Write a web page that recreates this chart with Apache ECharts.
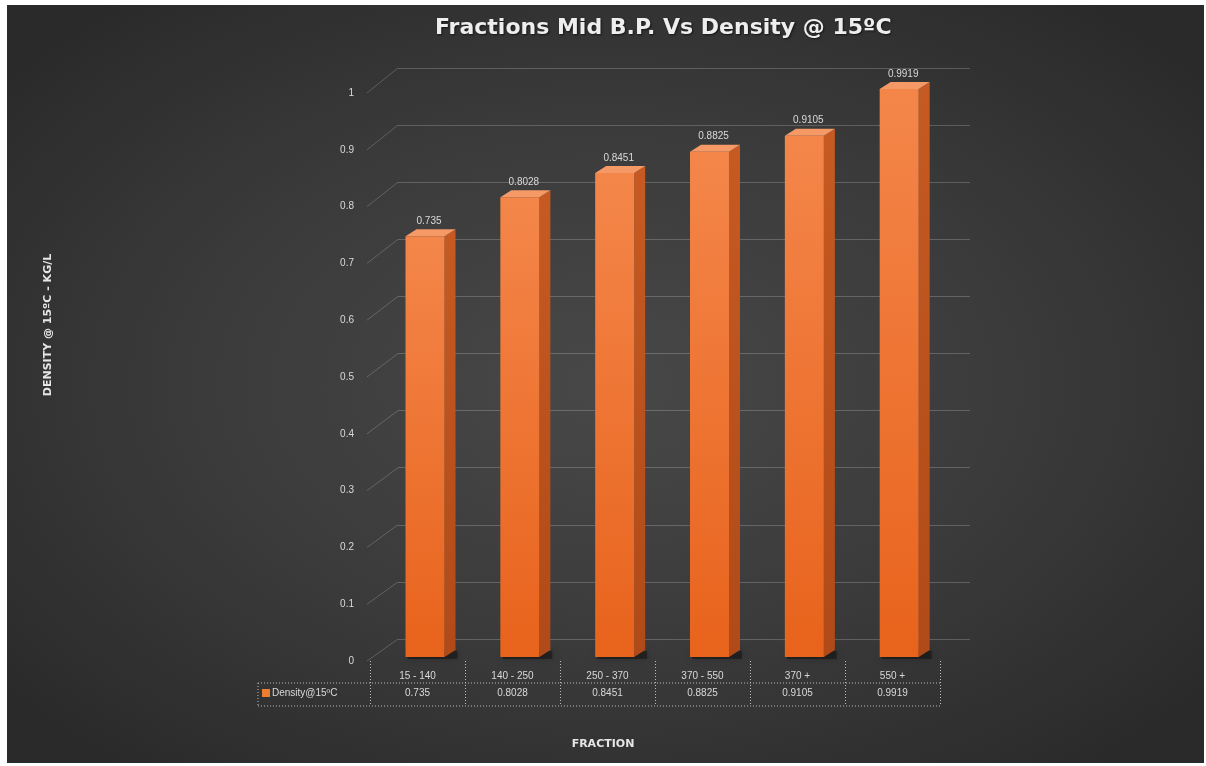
<!DOCTYPE html>
<html>
<head>
<meta charset="utf-8">
<script src="https://cdn.jsdelivr.net/npm/echarts@6/dist/echarts.min.js"></script>
<style>
  html, body { margin: 0; padding: 0; background: #ffffff; width: 1206px; height: 766px; overflow: hidden; }
  #chart {
    position: absolute; left: 7px; top: 5px; width: 1197px; height: 758px;
    background: radial-gradient(ellipse 65% 65% at 50% 50%, #484848 0%, #3a3a3a 55%, #2a2a2a 100%);
  }
</style>
</head>
<body>
<div id="chart"></div>
<script>
// ---- data ----
const categories = ['15 - 140', '140 - 250', '250 - 370', '370 - 550', '370 +', '550 +'];
const densities = [0.735, 0.8028, 0.8451, 0.8825, 0.9105, 0.9919];
const yTicks = [0, 0.1, 0.2, 0.3, 0.4, 0.5, 0.6, 0.7, 0.8, 0.9, 1];
const seriesName = 'Density@15ºC';

// ---- layout (page px, converted to chart px) ----
const OX = 7, OY = 5;
const TXT = '#d9d9d9';
const GRID_COL = 'rgba(255,255,255,0.2)';
const TABLE_COL = '#bdbdbd';
const FONT = '"Liberation Sans", Arial, sans-serif';

const front = { left: 370 - OX, top: 93 - OY, width: 570, height: 568 };
const back  = { left: 398 - OX, top: 68 - OY, width: 572, height: 571 };
const bars  = { left: 377.6 - OX, top: 84.4 - OY, width: 569, height: 572.6 };

const chart = echarts.init(document.getElementById('chart'), null, { renderer: 'canvas' });

const orangeFront = new echarts.graphic.LinearGradient(0, 0, 0, 1, [
  { offset: 0, color: '#f4864a' },
  { offset: 1, color: '#e8631c' }
]);
const orangeSide = new echarts.graphic.LinearGradient(0, 0, 0, 1, [
  { offset: 0, color: '#c65a22' },
  { offset: 1, color: '#b04a18' }
]);

const tableLeft = 258 - OX, tableRight = front.left + front.width;
const rowMid = 683 - OY, rowBot = 706 - OY;

const option = {
  animation: false,
  backgroundColor: 'transparent',
  title: {
    text: 'Fractions Mid B.P. Vs Density @ 15ºC',
    left: 430 - OX,
    top: 12 - OY,
    textStyle: {
      color: '#eeeeee', fontSize: 22, fontWeight: 'bold',
      fontFamily: '"DejaVu Sans", Verdana, sans-serif',
      textShadowColor: 'rgba(0,0,0,0.6)', textShadowBlur: 2, textShadowOffsetX: 1, textShadowOffsetY: 1
    }
  },
  legend: {
    data: [{ name: seriesName, icon: 'rect' }],
    left: 262 - OX, top: 688 - OY,
    padding: 0, itemWidth: 8, itemHeight: 8, itemGap: 2,
    textStyle: { color: TXT, fontSize: 10, fontFamily: FONT, padding: [0, 0, 0, -3] },
    selectedMode: false
  },
  grid: [
    Object.assign({ containLabel: false }, front),
    Object.assign({ containLabel: false }, back),
    Object.assign({ containLabel: false }, bars)
  ],
  xAxis: [
    {
      gridIndex: 0, type: 'category', data: categories, boundaryGap: true,
      axisLine: { show: false },
      axisTick: { show: true, length: 45, interval: 0, lineStyle: { color: TABLE_COL, type: [1, 2], width: 1 } },
      axisLabel: { interval: 0, margin: 10, color: TXT, fontSize: 10, fontFamily: FONT },
      splitLine: { show: false }
    },
    {
      gridIndex: 0, type: 'category', data: densities.map(String), position: 'bottom', offset: 22,
      axisLine: { show: false }, axisTick: { show: false },
      axisLabel: { interval: 0, margin: 5, color: TXT, fontSize: 10, fontFamily: FONT },
      splitLine: { show: false }
    },
    { gridIndex: 1, type: 'category', data: categories, show: false },
    { gridIndex: 2, type: 'category', data: categories, show: false }
  ],
  yAxis: [
    {
      gridIndex: 0, type: 'value', min: 0, max: 1, interval: 0.1,
      axisLine: { show: false }, axisTick: { show: false }, splitLine: { show: false },
      axisLabel: { margin: 16, color: TXT, fontSize: 10, fontFamily: FONT }
    },
    {
      gridIndex: 1, type: 'value', min: 0, max: 1, interval: 0.1,
      axisLine: { show: false }, axisTick: { show: false }, axisLabel: { show: false },
      splitLine: { show: true, lineStyle: { color: GRID_COL, width: 1 } }
    },
    { gridIndex: 2, type: 'value', min: 0, max: 1, show: false }
  ],
  graphic: [
    { type: 'line', shape: { x1: tableLeft, y1: rowMid, x2: tableRight, y2: rowMid }, style: { stroke: TABLE_COL, lineDash: [1, 2], lineWidth: 1 } },
    { type: 'line', shape: { x1: tableLeft, y1: rowBot, x2: tableRight, y2: rowBot }, style: { stroke: TABLE_COL, lineDash: [1, 2], lineWidth: 1 } },
    { type: 'line', shape: { x1: tableLeft, y1: rowMid, x2: tableLeft, y2: rowBot }, style: { stroke: TABLE_COL, lineDash: [1, 2], lineWidth: 1 } },
    {
      type: 'text', x: 48 - OX, y: 325 - OY, rotation: Math.PI / 2,
      style: { text: 'DENSITY @ 15ºC - KG/L', fill: '#e6e6e6', font: 'bold 11px "DejaVu Sans", sans-serif', textAlign: 'center', textVerticalAlign: 'middle' }
    },
    {
      type: 'text', x: 603 - OX, y: 744 - OY,
      style: { text: 'FRACTION', fill: '#e6e6e6', font: 'bold 11px "DejaVu Sans", sans-serif', textAlign: 'center', textVerticalAlign: 'middle' }
    }
  ],
  series: [
    {
      type: 'custom', name: 'walls', xAxisIndex: 2, yAxisIndex: 1, silent: true, z: 1,
      data: yTicks.map(v => [0, v]),
      renderItem: function (params, api) {
        const v = api.value(1);
        const y = api.coord([0, v])[1];
        const x = params.coordSys.x;
        return {
          type: 'line',
          shape: { x1: x, y1: y, x2: x - 31, y2: y + 22 + 3 * v },
          style: { stroke: GRID_COL, lineWidth: 1 }
        };
      }
    },
    {
      type: 'custom', name: seriesName, xAxisIndex: 3, yAxisIndex: 2, z: 3,
      itemStyle: { color: '#ed7d31' },
      data: densities.map((v, i) => [i, v]),
      renderItem: function (params, api) {
        const i = api.value(0), v = api.value(1);
        const top = api.coord([i, v]);
        const base = api.coord([i, 0]);
        const hw = 19.5, dx = 11, dy = -7;
        const xl = top[0] - hw, xr = top[0] + hw, yt = top[1], yb = base[1];
        return {
          type: 'group',
          children: [
            { type: 'rect', shape: { x: xl + 2, y: yb - 6, width: 2 * hw + dx, height: 8 },
              style: { fill: 'rgba(0,0,0,0.35)', shadowBlur: 6, shadowColor: 'rgba(0,0,0,0.6)' } },
            { type: 'polygon', shape: { points: [[xr, yt], [xr + dx, yt + dy], [xr + dx, yb + dy], [xr, yb]] },
              style: { fill: orangeSide } },
            { type: 'polygon', shape: { points: [[xl, yt], [xl + dx, yt + dy], [xr + dx, yt + dy], [xr, yt]] },
              style: { fill: '#f59a66' } },
            { type: 'rect', shape: { x: xl, y: yt, width: 2 * hw, height: yb - yt },
              style: { fill: orangeFront } },
            { type: 'text', x: top[0] + 4, y: yt - 15,
              style: { text: String(v), fill: TXT, font: '10px ' + FONT, textAlign: 'center', textVerticalAlign: 'middle' } }
          ]
        };
      }
    }
  ]
};

chart.setOption(option);
</script>
</body>
</html>
